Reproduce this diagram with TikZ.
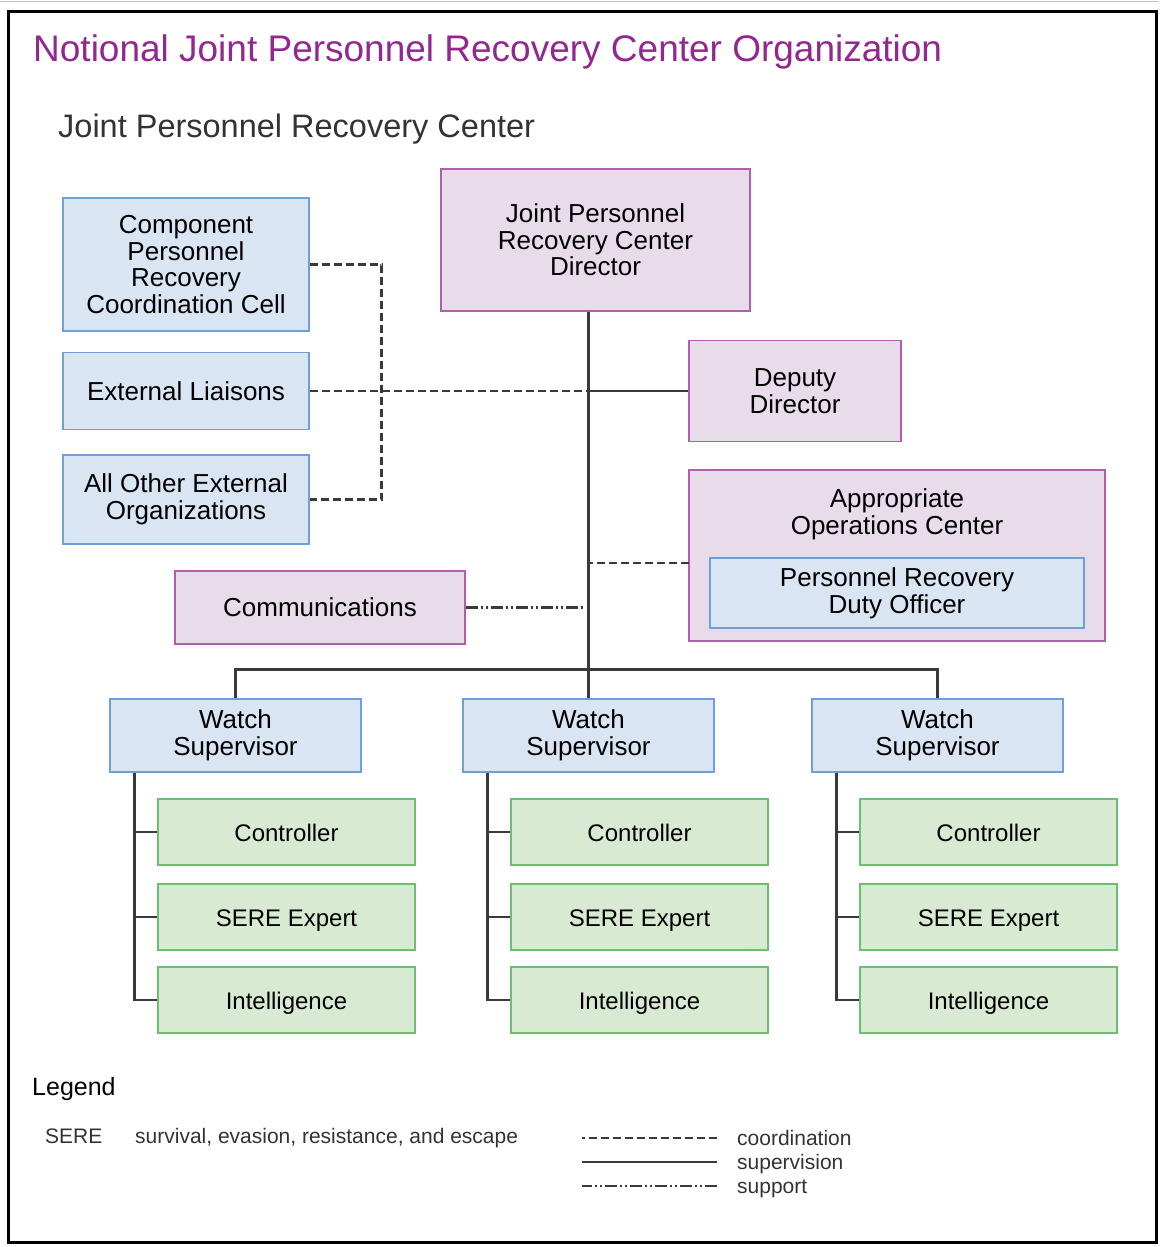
\documentclass[tikz,border=0pt]{standalone}
\usepackage{fontspec}
\setmainfont{Liberation Sans}
\usetikzlibrary{positioning}

\definecolor{titlepurple}{HTML}{93278F}
\definecolor{pinkfill}{HTML}{E8DCEB}
\definecolor{pinkline}{HTML}{B35DAC}
\definecolor{bluefill}{HTML}{DAE5F3}
\definecolor{blueline}{HTML}{6F9FD8}
\definecolor{greenfill}{HTML}{D9EAD3}
\definecolor{greenline}{HTML}{6CBF6E}
\definecolor{linegray}{HTML}{3A3A3A}

\begin{document}
\begin{tikzpicture}[x=1pt,y=-1pt,
    box/.style={draw,line width=1.3pt,align=center,inner sep=0pt,
      font=\fontsize{26}{26.6}\selectfont},
    pinkbox/.style={box,fill=pinkfill,draw=pinkline},
    bluebox/.style={box,fill=bluefill,draw=blueline},
    greenbox/.style={box,fill=greenfill,draw=greenline,text height=22pt,text depth=4pt,
      minimum width=257pt,minimum height=66pt,font=\fontsize{24}{26}\selectfont},
    supervision/.style={draw=linegray,line width=2.6pt},
    coordination/.style={draw=linegray,line width=2.4pt,dash pattern=on 8pt off 4pt},
    support/.style={draw=linegray,line width=2.4pt,
      dash pattern=on 12pt off 3pt on 2pt off 3pt on 2pt off 3pt},
    legendtext/.style={anchor=base west,inner sep=0pt,text=black!80,
      font=\fontsize{21}{24}\selectfont}]
    \useasboundingbox (0,0) rectangle (1159,1247);
    % frame
    \draw[black!25,line width=1.5pt] (0,1.5) -- (1159,1.5);
    \draw[line width=2.5pt] (8.5,11.5) rectangle (1156.5,1242.5);

    % titles
    \node[anchor=base west,inner sep=0pt,text=titlepurple,font=\fontsize{37}{40}\selectfont]
      (title) at (33,62) {Notional Joint Personnel Recovery Center Organization};
    \node[anchor=base west,inner sep=0pt,text=black!80,font=\fontsize{32.5}{36}\selectfont]
      (jprc) at (58,137) {Joint Personnel Recovery Center};

    % left side
    \node[bluebox,minimum width=246pt,minimum height=133pt] (cprcc) at (186,264.5)
      {Component\\Personnel\\Recovery\\Coordination Cell};
    \node[bluebox,minimum width=246pt,minimum height=77pt] (liaisons) at (186,391)
      {External Liaisons};
    \node[bluebox,minimum width=246pt,minimum height=89pt] (others) at (186,499.5)
      {All Other External\\Organizations};
    \node[pinkbox,minimum width=290pt,minimum height=73pt] (comms) at (320,607.5)
      {Communications};

    % director and staff
    \node[pinkbox,minimum width=309pt,minimum height=142pt] (director) at (595.5,240)
      {Joint Personnel\\Recovery Center\\Director};
    \node[pinkbox,minimum width=212pt,minimum height=101pt] (deputy) at (795,391)
      {Deputy\\Director};
    \node[pinkbox,minimum width=416pt,minimum height=171pt] (opscenter) at (897,555.5) {};
    \node[box,draw=none] (opstitle) at (897,514) {Appropriate\\Operations Center};
    \node[bluebox,minimum width=374pt,minimum height=70pt] (dutyofficer) at (897,593)
      {Personnel Recovery\\Duty Officer};
    \coordinate (opsjoin) at (689,563);

    % watch teams
    \foreach \i/\x in {1/235.5,2/588.5,3/937.5}{
      \node[bluebox,minimum width=251pt,minimum height=73pt] (ws\i) at (\x,735.5)
        {Watch\\Supervisor};
      \node[greenbox] (ctrl\i) at (\x+51,832) {Controller};
      \node[greenbox] (sere\i) at (\x+51,917) {SERE Expert};
      \node[greenbox] (intel\i) at (\x+51,1000) {Intelligence};
      \coordinate[right=25pt of ws\i.south west] (stem\i);
      \draw[supervision] (stem\i) |- (intel\i.west);
      \draw[supervision] (stem\i |- ctrl\i.west) -- (ctrl\i.west);
      \draw[supervision] (stem\i |- sere\i.west) -- (sere\i.west);
    }

    % links
    \draw[coordination] (cprcc.east) -- ++(72,0) |- (others.east);
    \draw[coordination] (liaisons.east) -- (liaisons.east -| ws2.north);
    \draw[coordination] (opsjoin) -- (opsjoin -| ws2.north);
    \draw[support] (comms.east) -- ([xshift=-3pt]comms.east -| ws2.north);
    \draw[supervision] (director.south -| ws2.north) -- (ws2.north);
    \draw[supervision] (deputy.west) -- (deputy.west -| ws2.north);
    \draw[supervision] (ws1.north) -- ++(0,-29) -| (ws3.north);

    % legend
    \node[anchor=base west,inner sep=0pt,font=\fontsize{25}{28}\selectfont]
      (legend) at (32,1095) {Legend};
    \node[legendtext] (sereabbr) at (45,1143) {SERE};
    \node[legendtext] (seredef) at (135,1143) {survival, evasion, resistance, and escape};
    \node[legendtext] (coordlabel) at (737,1145) {coordination};
    \node[legendtext] (suplabel) at (737,1169) {supervision};
    \node[legendtext] (supplabel) at (737,1193) {support};
    \draw[coordination] ([xshift=-20pt,yshift=7pt]coordlabel.base west) -- ++(-135,0);
    \draw[supervision] ([xshift=-20pt,yshift=7pt]suplabel.base west) -- ++(-135,0);
    \draw[support] ([xshift=-20pt,yshift=7pt]supplabel.base west) -- ++(-135,0);
\end{tikzpicture}
\end{document}
